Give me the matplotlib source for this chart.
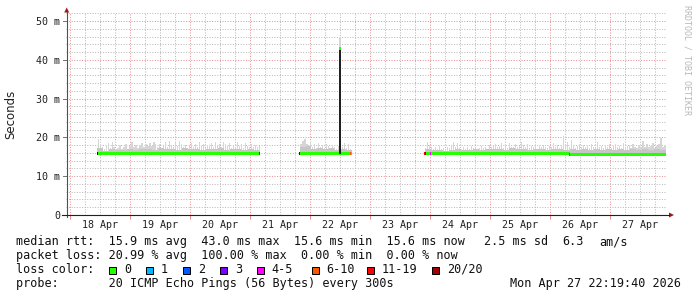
import numpy as np
import matplotlib
matplotlib.use('Agg')
import matplotlib.pyplot as plt
from matplotlib.lines import Line2D
from matplotlib.patches import Polygon, Rectangle
from matplotlib.transforms import blended_transform_factory

# time axis in days, 0 = 18 Apr 00:00
t_start = -0.0697   # 17 Apr 22:19:40
t_end = 9.9303      # 27 Apr 22:19:40
day_labels = ['18 Apr', '19 Apr', '20 Apr', '21 Apr', '22 Apr',
              '23 Apr', '24 Apr', '25 Apr', '26 Apr', '27 Apr']

# segments with data (start day, end day)
seg_bounds = [(0.45, 3.17), (3.83, 4.69), (5.91, 9.93)]

# smoke top (ms), light layer
seg1_top = [19.5, 18.2, 17.4, 17.0, 17.8, 18.6, 17.2, 18.9, 17.5, 16.9,
            17.3, 18.0, 17.1, 17.6, 18.4, 17.0, 17.8, 18.8, 17.4, 18.1,
            17.2, 17.9, 18.5, 17.6, 18.3, 17.9, 18.6, 17.8, 18.9, 18.2,
            17.5, 18.4, 17.3, 17.9, 18.7, 17.6, 19.0, 18.1, 17.4, 18.5,
            17.8, 19.2, 18.3, 17.5, 18.0, 17.2, 17.8, 18.6, 17.4, 18.2,
            17.6, 18.9, 17.9, 18.4, 17.3, 18.0, 17.7, 18.5, 17.4, 18.8,
            17.9, 18.3, 17.5, 18.9, 18.4, 17.8, 18.6, 17.3, 18.1, 17.6,
            18.7, 17.9, 18.4, 17.2, 18.6, 17.8, 17.4, 18.2, 17.6, 18.0,
            17.5, 17.9]
seg2_top = [18.4, 19.1, 19.6, 18.2, 17.6, 18.8, 17.4, 18.3, 17.2, 18.6,
            17.5, 18.0, 17.3, 18.4, 17.8, 17.2, 18.1, 17.5, 17.0, 17.9,
            17.5, 17.4, 18.6, 17.2, 18.3, 17.0]
seg3_top = [17.2, 18.9, 18.0, 17.4, 16.9, 17.6, 17.1, 17.8, 17.0, 17.3,
            16.9, 17.5, 17.2, 17.9, 18.8, 17.4, 18.6, 17.3, 17.0, 17.6,
            17.1, 17.4, 16.9, 17.8, 17.2, 17.5, 17.0, 17.3, 17.9, 17.2,
            17.6, 17.1, 18.0, 17.4, 17.7, 18.3, 17.5, 17.9, 18.5, 17.3,
            17.8, 17.2, 18.6, 17.6, 17.4, 18.2, 17.5, 17.9, 18.7, 18.0,
            17.6, 18.4, 17.3, 17.9, 17.5, 18.2, 17.1, 17.7, 17.4, 18.1,
            17.6, 17.2, 17.9, 17.4, 18.5, 17.6, 18.1, 17.3, 17.7, 20.4,
            17.8, 18.9, 17.5, 19.4, 17.9, 17.3, 17.8, 18.4, 17.4, 18.0,
            17.5, 17.9, 17.2, 18.3, 17.6, 17.4, 18.7, 17.5, 17.9, 17.2,
            18.0, 17.6, 18.4, 17.3, 17.8, 18.2, 17.5, 17.9, 17.3, 18.5,
            17.4, 17.7, 18.0, 17.3, 18.3, 17.6, 17.2, 18.1, 17.5, 19.2,
            17.6, 18.3, 17.4, 17.9, 18.6, 17.3, 17.8, 18.4, 19.9, 17.6,
            17.9]

# smoke top (ms), darker layer
seg1_dark = [17.3, 16.6, 16.9, 16.7, 16.8, 17.0, 16.7, 16.9, 17.1, 16.8,
             17.2, 16.9, 17.0, 16.8, 17.3, 16.9, 17.1, 16.8, 17.0, 16.9,
             17.2, 16.8, 17.1, 16.9, 16.8, 17.0, 16.7]
seg2_dark = [17.6, 17.8, 17.0, 17.3, 16.9, 17.2, 16.8, 16.9, 16.8]
seg3_dark = [17.1, 16.7, 16.8, 16.6, 16.7, 16.9, 16.7, 16.8, 17.0, 16.8,
             17.1, 16.9, 17.0, 16.8, 17.2, 16.9, 17.0, 16.8, 16.9, 17.0,
             16.8, 17.1, 16.9, 16.7, 16.9, 16.8, 17.0, 16.7, 16.9, 16.8,
             17.0, 16.7, 16.9, 16.8, 17.1, 16.8, 16.9, 16.7, 17.0, 16.8]

# median rtt (ms)
seg1_med = [15.9, 15.9, 15.8, 15.9, 15.9, 15.8, 15.9, 15.9, 15.9, 15.8,
            15.9, 15.9, 15.9, 15.9]
seg2_med = [15.9, 15.8, 15.8, 15.8]
seg3_med = [15.9, 15.9, 15.9, 15.9, 15.9, 15.9, 15.9, 15.9, 15.9, 15.9,
            15.8, 15.8, 15.7, 15.7, 15.7, 15.7, 15.7, 15.7, 15.7, 15.7]

# the one big sample on 22 Apr
spike_day = 4.497
spike_low = 15.6
spike_med = 43.0
spike_top = 45.9

# samples with loss (day, median, colour)
loss_day = [0.45, 3.16, 3.83, 4.675, 5.91, 5.925, 6.0, 8.33]
loss_med = [15.9, 15.9, 15.9, 15.8, 15.9, 15.9, 15.9, 15.7]
loss_col = ['#1e1e1e', '#ff0000', '#1e1e1e', '#ff5500', '#ff0000', '#a10000',
            '#ff00ff', '#ff00ff']

legend_names = ['0', '1', '2', '3', '4-5', '6-10', '11-19', '20/20']
legend_colors = ['#26ff00', '#00b8ff', '#0059ff', '#7e00ff', '#ff00ff',
                 '#ff5500', '#ff0000', '#a10000']

W, H = 697, 297
fig = plt.figure(figsize=(W / 100, H / 100), dpi=100)
fig.patch.set_facecolor('white')


def px(x):
    return x / W


def py(y):
    return 1 - y / H


ax = fig.add_axes([px(66), py(215), 600 / W, 202 / H])
ax.set_xlim(t_start, t_end)
ax.set_ylim(0, 202 / 3.88)
ax.set_facecolor('white')
for s in ax.spines.values():
    s.set_visible(False)

mono = 'DejaVu Sans Mono'
grid_gray = '#b8b8b8'
grid_red = '#e89090'
dots = (0, (1, 1.6))

# grid
for d in np.arange(0, 10, 0.25):
    if d % 1 != 0:
        ax.axvline(d, color=grid_gray, lw=0.72, ls=dots, zorder=0)
for d in range(0, 10):
    ax.axvline(d, color=grid_red, lw=0.72, ls=dots, zorder=0)
for v in range(2, 53, 2):
    if v % 10 != 0:
        ax.axhline(v, color=grid_gray, lw=0.72, ls=dots, zorder=0)
for v in range(10, 51, 10):
    ax.axhline(v, color=grid_red, lw=0.72, ls=dots, zorder=0)

light = '#d6d6d6'
dark = '#c6c6c6'
green = legend_colors[0]
one_px = 1 / 60

tops = [seg1_top, seg2_top, seg3_top]
darks = [seg1_dark, seg2_dark, seg3_dark]
meds = [seg1_med, seg2_med, seg3_med]
for (a, b), top, dk, med in zip(seg_bounds, tops, darks, meds):
    e = np.linspace(a, b, len(top) + 1)
    c = (e[:-1] + e[1:]) / 2
    ax.bar(c, np.array(top) - 15.4, bottom=15.4, width=1.2 * one_px,
           color=light, lw=0, zorder=2)
    e = np.linspace(a, b, len(dk) + 1)
    ax.fill_between(e, 15.4, np.append(dk, dk[-1]), step='post',
                    color=dark, lw=0, zorder=3)
    e = np.linspace(a, b, len(med) + 1)
    m = np.append(med, med[-1])
    ax.fill_between(e, m - 0.4, m + 0.4, step='post', color=green,
                    lw=0, zorder=4)

ax.bar(spike_day, spike_top - spike_med, bottom=spike_med, width=2 * one_px,
       color=light, lw=0, zorder=2)
ax.bar(spike_day, spike_med - spike_low, bottom=spike_low, width=2 * one_px,
       color='#202020', lw=0, zorder=5)
ax.bar(spike_day, 0.8, bottom=spike_med - 0.4, width=2 * one_px,
       color=green, lw=0, zorder=6)

ax.bar(loss_day, 0.8, bottom=np.array(loss_med) - 0.4, width=one_px,
       color=loss_col, lw=0, zorder=6)

# ticks
ax.set_xticks(range(0, 10))
ax.set_xticklabels([])
ax.tick_params(axis='x', which='major', length=3, width=0.72,
               color=grid_red, direction='out')
ax.set_yticks([])
trans_x = blended_transform_factory(ax.transData, fig.transFigure)
for i, lab in enumerate(day_labels):
    ax.text(i + 0.5, py(228.5), lab, transform=trans_x, ha='center',
            va='baseline', fontsize=7.2, family=mono, color='#202020')
trans_y = blended_transform_factory(fig.transFigure, ax.transData)
for v in range(0, 51, 10):
    lab = '0' if v == 0 else f'{v} m'
    ax.text(px(60), v, lab, transform=trans_y, ha='right',
            va='center_baseline', fontsize=7.2, family=mono, color='#202020')
    fig.add_artist(Line2D([px(62.5), px(66.5)], [py(215 - v * 3.88)] * 2,
                          color='#777777', lw=0.72))

# axis lines and arrows
fig.add_artist(Line2D([px(66.7), px(66.7)], [py(217), py(12)],
                      color='#505050', lw=0.8))
fig.add_artist(Line2D([px(62), px(669)], [py(215), py(215)],
                      color='#202020', lw=0.8))
fig.add_artist(Polygon([[px(64.2), py(12.5)], [px(69.2), py(12.5)],
                        [px(66.7), py(7.5)]], closed=True,
                       color='#a01818', lw=0))
fig.add_artist(Polygon([[px(669), py(212.5)], [px(669), py(217.5)],
                        [px(674), py(215)]], closed=True,
                       color='#a01818', lw=0))

fig.text(px(11), py(114), 'Seconds', rotation=90, ha='center', va='center',
         fontsize=8.5, family='DejaVu Sans', color='#202020')
fig.text(px(687), py(60), 'RRDTOOL / TOBI OETIKER', rotation=270,
         ha='center', va='center', fontsize=6, family=mono, color='#b8b8b8')

# legend text
fs = 8.5
txt = dict(fontsize=fs, family=mono, va='baseline', color='#101010')
fig.text(px(16), py(245.3),
         'median rtt:  15.9 ms avg  43.0 ms max  15.6 ms min  15.6 ms now',
         **txt)
fig.text(px(484), py(245.3), '2.5 ms sd', **txt)
fig.text(px(562), py(245.3), '6.3', **txt)
fig.text(px(599), py(245.3), 'am/s', **txt)
fig.text(px(16), py(259),
         'packet loss: 20.99 % avg  100.00 % max  0.00 % min  0.00 % now',
         **txt)
fig.text(px(16), py(272.7), 'loss color:', **txt)
fig.text(px(16), py(286.7),
         'probe:       20 ICMP Echo Pings (56 Bytes) every 300s', **txt)
fig.text(px(681), py(286.7), 'Mon Apr 27 22:19:40 2026', ha='right', **txt)

sq_x = [109, 145.7, 182.7, 219.7, 256.7, 311.7, 366.7, 431.7]
for x, name, c in zip(sq_x, legend_names, legend_colors):
    fig.add_artist(Rectangle((px(x), py(273.5)), 7 / W, 7 / H,
                             facecolor=c, edgecolor='black', lw=0.72))
    fig.text(px(x + 15), py(272.7), name, **txt)

fig.savefig('out.png', dpi=100)
